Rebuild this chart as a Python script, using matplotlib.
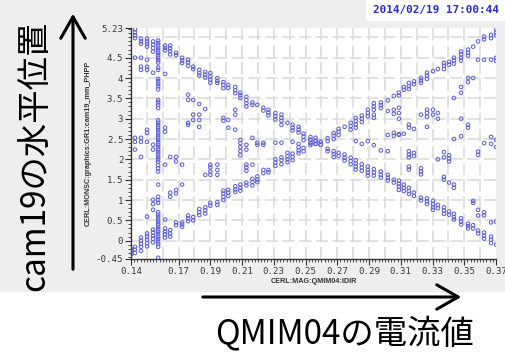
import matplotlib
matplotlib.use("Agg")
import matplotlib.pyplot as plt
from matplotlib.patches import Rectangle, FancyArrowPatch
from matplotlib.ticker import FixedLocator, FixedFormatter, MultipleLocator

plt.rcParams['font.family'] = ['Noto Sans CJK JP', 'DejaVu Sans']

# ---- data: (current setting, [measured horizontal positions]) ----
descending = [
    (0.1425, [5.20, 5.12, 5.05, 4.98]),
    (0.1463, [4.97, 4.90, 4.84]),
    (0.1501, [4.97, 4.90, 4.84, 4.77]),
    (0.1539, [4.90, 4.82, 4.74, 4.65]),
    (0.1615, [4.80, 4.74, 4.68]),
    (0.1647, [4.80, 4.73, 4.66, 4.58]),
    (0.1684, [4.62, 4.56]),
    (0.1722, [4.50, 4.43, 4.37]),
    (0.1760, [4.45, 4.38, 4.30]),
    (0.1792, [4.28, 4.22]),
    (0.1830, [4.20, 4.12, 4.06]),
    (0.1868, [4.15, 4.08, 4.01]),
    (0.1900, [4.12, 4.04, 3.96, 3.88]),
    (0.1944, [4.00, 3.93, 3.88]),
    (0.1982, [3.90, 3.83, 3.75]),
    (0.2013, [3.83, 3.76]),
    (0.2057, [3.78, 3.70, 3.63]),
    (0.2089, [3.64, 3.58, 3.51]),
    (0.2127, [3.54, 3.46, 3.38, 3.30]),
    (0.2165, [3.40, 3.34]),
    (0.2196, [3.34]),
    (0.2234, [3.27, 3.20]),
    (0.2266, [3.22, 3.15, 3.08]),
    (0.2310, [3.14, 3.06, 2.98]),
    (0.2348, [3.10, 3.02, 2.95, 2.85]),
    (0.2386, [2.90]),
    (0.2418, [2.85, 2.78, 2.71]),
    (0.2456, [2.80, 2.73, 2.66]),
    (0.2487, [2.63, 2.56, 2.47]),
    (0.2531, [2.55, 2.48, 2.40]),
    (0.2563, [2.53, 2.46, 2.38]),
    (0.2595, [2.43, 2.36]),
    (0.2639, [2.26, 2.20]),
    (0.2677, [2.20, 2.13, 2.06]),
    (0.2708, [2.16, 2.08]),
    (0.2746, [2.12, 2.04, 1.97]),
    (0.2784, [2.04, 1.96, 1.88]),
    (0.2816, [1.98, 1.90, 1.82, 1.75]),
    (0.2854, [1.88, 1.80, 1.72]),
    (0.2892, [1.82, 1.74, 1.67, 1.60]),
    (0.2930, [1.76, 1.68, 1.60]),
    (0.2974, [1.70, 1.62, 1.55]),
    (0.3018, [1.62, 1.55, 1.48]),
    (0.3056, [1.50, 1.43]),
    (0.3088, [1.48, 1.40, 1.33, 1.25]),
    (0.3119, [1.38, 1.30, 1.22]),
    (0.3151, [1.30, 1.22, 1.15]),
    (0.3183, [1.18, 1.10]),
    (0.3227, [1.06, 0.99]),
    (0.3265, [1.04, 0.97, 0.90]),
    (0.3303, [0.98, 0.90, 0.82, 0.76]),
    (0.3334, [0.88, 0.80]),
    (0.3372, [0.82, 0.74, 0.66]),
    (0.3404, [0.72, 0.64]),
    (0.3435, [0.66, 0.58, 0.52]),
    (0.3480, [0.55, 0.47, 0.40]),
    (0.3524, [0.42, 0.36, 0.30]),
    (0.3556, [0.38, 0.30]),
    (0.3587, [0.25, 0.18]),
    (0.3625, [0.20, 0.12, 0.05]),
    (0.3669, [0.10, 0.02, -0.06]),
    (0.3701, [-0.10]),
]

ascending = [
    (0.1400, [-0.20, -0.28, -0.35]),
    (0.1425, [-0.15, -0.22, -0.30]),
    (0.1463, [0.08, 0.00, -0.08, -0.15, -0.25]),
    (0.1501, [0.18, 0.10, 0.02, -0.06, -0.14]),
    (0.1539, [0.27, 0.20, 0.12, 0.05, -0.04]),
    (0.1615, [0.30, 0.23, 0.16, 0.08]),
    (0.1647, [0.26, 0.18, 0.10]),
    (0.1684, [0.45, 0.38]),
    (0.1722, [0.45, 0.40, 0.34]),
    (0.1760, [0.62, 0.55, 0.48]),
    (0.1792, [0.58, 0.50]),
    (0.1830, [0.78, 0.70, 0.63]),
    (0.1868, [0.82, 0.75, 0.67]),
    (0.1900, [0.93, 0.86]),
    (0.1944, [0.95, 0.88]),
    (0.1982, [1.23, 1.16, 1.08, 1.00]),
    (0.2013, [1.25, 1.18, 1.10]),
    (0.2057, [1.34, 1.26, 1.20]),
    (0.2089, [1.38, 1.30, 1.23]),
    (0.2127, [1.43, 1.36]),
    (0.2165, [1.52, 1.44, 1.36]),
    (0.2196, [1.58, 1.50, 1.44]),
    (0.2234, [1.74, 1.66]),
    (0.2266, [1.74, 1.68]),
    (0.2310, [2.00, 1.92, 1.84]),
    (0.2348, [2.05, 1.98, 1.88]),
    (0.2386, [2.16, 2.08, 2.00, 1.93]),
    (0.2418, [2.14, 2.06, 1.98]),
    (0.2456, [2.30, 2.22, 2.15]),
    (0.2487, [2.28, 2.20]),
    (0.2531, [2.48, 2.40, 2.35]),
    (0.2563, [2.45, 2.38]),
    (0.2595, [2.43, 2.36]),
    (0.2639, [2.52, 2.45]),
    (0.2677, [2.65, 2.58, 2.50]),
    (0.2708, [2.75, 2.68, 2.60]),
    (0.2746, [2.80]),
    (0.2784, [2.90, 2.82, 2.73]),
    (0.2816, [3.02, 2.94, 2.86, 2.78]),
    (0.2854, [3.08, 3.00, 2.92]),
    (0.2892, [3.22, 3.14, 3.06]),
    (0.2930, [3.38, 3.30, 3.22]),
    (0.2974, [3.40, 3.33, 3.26]),
    (0.3018, [3.45]),
    (0.3056, [3.56]),
    (0.3088, [3.64, 3.57]),
    (0.3119, [3.78, 3.71]),
    (0.3151, [3.88, 3.80, 3.73]),
    (0.3183, [3.92, 3.85]),
    (0.3227, [4.00, 3.94, 3.88]),
    (0.3265, [4.13, 4.06, 3.98]),
    (0.3303, [4.17]),
    (0.3334, [4.22]),
    (0.3372, [4.37, 4.30, 4.22]),
    (0.3404, [4.40, 4.33]),
    (0.3435, [4.50, 4.43, 4.35]),
    (0.3480, [4.65, 4.58, 4.50, 4.43]),
    (0.3524, [4.70, 4.62, 4.55]),
    (0.3556, [4.77]),
    (0.3587, [4.90]),
    (0.3625, [5.02, 4.95]),
    (0.3669, [5.06, 4.98]),
    (0.3701, [5.20, 5.12, 5.05]),
]

scan_x = 0.1571
scan_y = [4.92, 4.86, 4.80, 4.74, 4.68, 4.62, 4.56, 4.50, 4.44, 4.38, 4.26, 4.20,
          3.98, 3.92, 3.86, 3.80, 3.72, 3.46, 3.40, 3.34, 3.26, 2.96, 2.90, 2.84,
          2.78, 2.72, 2.66, 2.60, 2.54, 2.48, 2.42, 2.36, 2.30, 2.24, 2.18, 2.12,
          2.06, 2.00, 1.94, 1.86, 1.78, 1.70, 1.38, 1.08, 1.00, 0.93, 0.70, 0.64,
          0.58, 0.52, 0.46, 0.40, 0.34, 0.28, 0.22, 0.16, 0.10, 0.04, -0.02,
          -0.08, -0.15, -0.42]

stray = [
    (0.1425, [4.50, 2.53, 2.43, 2.24]),
    (0.1463, [4.50, 4.28, 4.20, 2.53, 2.43, 2.06]),
    (0.1501, [4.45, 4.28, 4.20, 2.73, 2.65, 2.43, 0.59]),
    (0.1539, [4.13, 2.36, 2.24, 1.01, 0.90, 0.76]),
    (0.1615, [4.10, 2.78, 2.68, 1.87, 0.52]),
    (0.1647, [2.06, 1.18, 1.08]),
    (0.1684, [2.06, 1.95, 1.25, 1.16]),
    (0.1722, [1.87, 1.38]),
    (0.1760, [3.59, 3.46, 2.90, 2.85]),
    (0.1792, [3.46, 3.10, 2.97]),
    (0.1830, [3.36, 3.10, 2.97, 2.80]),
    (0.1868, [3.24, 1.62]),
    (0.1900, [1.87, 1.80, 1.70, 1.62]),
    (0.1944, [1.87, 1.74, 1.62]),
    (0.1982, [3.02, 2.95]),
    (0.2013, [2.97, 2.78]),
    (0.2057, [3.22, 3.10, 2.73]),
    (0.2089, [2.48, 2.40, 2.30, 2.20, 2.10]),
    (0.2127, [2.36, 2.24, 1.87, 1.80, 1.72]),
    (0.2165, [2.53, 1.87]),
    (0.2196, [2.41, 2.36]),
    (0.2234, [2.41, 2.36]),
    (0.2310, [2.41]),
    (0.2348, [2.41]),
    (0.2418, [2.43]),
    (0.2456, [2.38]),
    (0.2816, [2.45]),
    (0.2854, [2.38]),
    (0.2892, [2.45]),
    (0.2930, [3.10, 3.02, 2.35]),
    (0.2974, [2.22]),
    (0.3018, [3.19, 2.60, 2.20]),
    (0.3056, [3.22, 3.12, 2.65, 2.58]),
    (0.3088, [3.27, 3.14, 3.00, 2.62, 2.60]),
    (0.3119, [2.63]),
    (0.3151, [2.85, 2.78, 2.20, 2.12, 2.05, 1.82, 1.75]),
    (0.3183, [2.75, 2.16, 2.08]),
    (0.3227, [3.10, 1.78, 1.70, 1.63]),
    (0.3265, [3.22, 3.14, 3.05, 2.80]),
    (0.3303, [3.22, 3.10]),
    (0.3334, [3.14, 3.00, 2.00]),
    (0.3372, [2.18, 2.05, 1.57, 1.50]),
    (0.3404, [2.10, 2.02, 1.95, 1.43]),
    (0.3435, [3.51, 2.50, 1.38, 1.30]),
    (0.3480, [3.78, 3.64, 3.00, 2.57]),
    (0.3524, [4.00, 3.90, 2.85, 2.78]),
    (0.3556, [4.00, 0.98, 0.93]),
    (0.3587, [4.45, 2.19, 2.11, 0.76, 0.62]),
    (0.3625, [4.45, 2.40, 0.70, 0.62]),
    (0.3669, [4.45, 2.55, 2.38, 0.45]),
    (0.3701, [4.50, 4.42, 2.48, 2.30, 0.47]),
]

x_range = (0.14, 0.37)
y_range = (-0.45, 5.23)
x_tick_vals = [0.14, 0.17, 0.19, 0.21, 0.23, 0.25, 0.27, 0.29, 0.31, 0.33, 0.35, 0.37]
x_tick_text = ["0.14", "0.17", "0.19", "0.21", "0.23", "0.25", "0.27",
               "0.29", "0.31", "0.33", "0.35", "0.37"]
y_tick_vals = [-0.45, 0, 0.5, 1, 1.5, 2, 2.5, 3, 3.5, 4, 4.5, 5.23]
y_tick_text = ["-0.45", "0", "0.5", "1", "1.5", "2", "2.5", "3", "3.5", "4", "4.5", "5.23"]


def flatten(groups):
    xs, ys = [], []
    for xv, yv in groups:
        xs.extend([xv] * len(yv))
        ys.extend(yv)
    return xs, ys


W, H = 506, 355
fig = plt.figure(figsize=(W / 100, H / 100), dpi=100)
fig.patch.set_facecolor("white")

# window background and timestamp box
fig.add_artist(Rectangle((0, 63 / H), 1, 1, transform=fig.transFigure,
                         facecolor="#eeeeee", edgecolor="none", zorder=0))
fig.add_artist(Rectangle((366 / W, 1 - 21 / H), 140 / W, 21 / H, transform=fig.transFigure,
                         facecolor="white", edgecolor="none", zorder=1))
fig.text(436 / W, 1 - 10 / H, "2014/02/19 17:00:44", ha="center", va="center",
         family="DejaVu Sans Mono", fontweight="bold", fontsize=7.9, color="#2b2bd6")

ax = fig.add_axes([131 / W, 1 - 259 / H, (496 - 131) / W, (259 - 28) / H])
ax.set_facecolor("white")
ax.set_xlim(*x_range)
ax.set_ylim(*y_range)

grid_kw = dict(color="#d8d8d8", lw=1.1, ls=(0, (8, 3)), zorder=1)
for i in range(15, 37):
    ax.axvline(i / 100, **grid_kw)
for i in range(1, 11):
    ax.axhline(i * 0.5, **grid_kw)
ax.axhline(0, **grid_kw)

marker_kw = dict(s=6.5, facecolors="none", edgecolors="#6060d4", linewidths=0.75, zorder=3)
for grp in (descending, ascending, stray):
    gx, gy = flatten(grp)
    ax.scatter(gx, gy, **marker_kw)
ax.scatter([scan_x] * len(scan_y), scan_y, **marker_kw)

for side in ("top", "right"):
    ax.spines[side].set_visible(False)
for side in ("left", "bottom"):
    ax.spines[side].set_color("#333333")
    ax.spines[side].set_linewidth(1.0)

ax.xaxis.set_major_locator(FixedLocator(x_tick_vals))
ax.xaxis.set_major_formatter(FixedFormatter(x_tick_text))
ax.xaxis.set_minor_locator(MultipleLocator(0.002))
ax.yaxis.set_major_locator(FixedLocator(y_tick_vals))
ax.yaxis.set_major_formatter(FixedFormatter(y_tick_text))
ax.yaxis.set_minor_locator(MultipleLocator(0.1))
ax.tick_params(which="major", length=4, width=0.8, color="#333333", pad=1.5,
               labelsize=6.6, labelcolor="#3a3a3a")
ax.tick_params(which="minor", length=2.5, width=0.6, color="#333333")
for lab in ax.get_xticklabels() + ax.get_yticklabels():
    lab.set_family("DejaVu Sans Mono")

ax.set_xlabel("CERL:MAG:QMIM04:IDIR", fontsize=5.2, family="Liberation Sans",
              fontweight="bold", color="#333333", labelpad=2)
ax.set_ylabel("CERL:MONSC:graphics:GR1:cam19_mm_PHPP", fontsize=5.2,
              family="Liberation Sans", fontweight="bold", color="#333333", labelpad=3)

# annotation arrows and captions
fig.add_artist(FancyArrowPatch((73 / W, 1 - 272 / H), (73 / W, 1 - 11 / H),
                               transform=fig.transFigure, arrowstyle="->,head_length=7,head_width=4",
                               lw=2.2, color="black", mutation_scale=2.2))
fig.add_artist(FancyArrowPatch((200 / W, 1 - 297 / H), (464 / W, 1 - 297 / H),
                               transform=fig.transFigure, arrowstyle="->,head_length=7,head_width=4",
                               lw=2.2, color="black", mutation_scale=2.2))
fig.text(36 / W, 1 - 156 / H, "cam19の水平位置", rotation=90, ha="center", va="center",
         fontsize=24, color="black")
fig.text(345 / W, 1 - 334 / H, "QMIM04の電流値", ha="center", va="center",
         fontsize=24, color="black")

fig.savefig("out.png", dpi=100, facecolor=fig.get_facecolor())
